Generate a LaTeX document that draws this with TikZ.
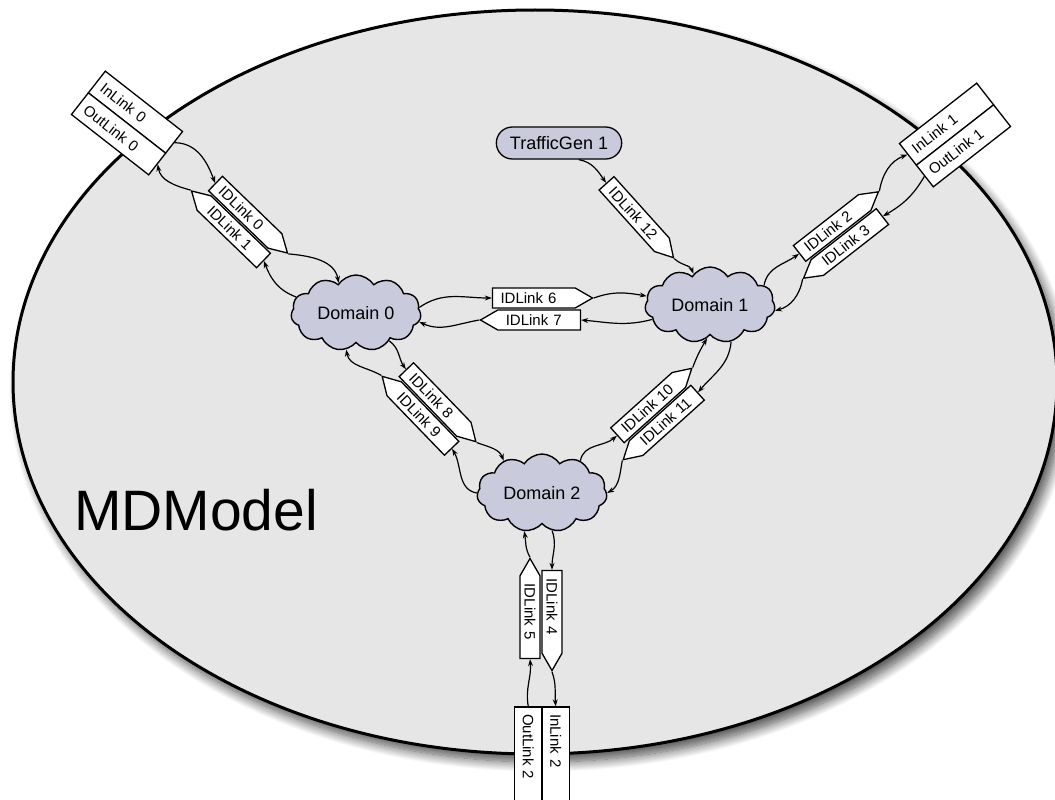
\documentclass[tikz,border=0pt]{standalone}
\usepackage{fontspec}
\setmainfont{Liberation Sans}
\usetikzlibrary{shapes.symbols,shapes.misc,arrows.meta,shadows.blur}

\definecolor{modelfill}{RGB}{230,230,230}
\definecolor{domainfill}{RGB}{201,202,219}

\tikzset{
  domcloud/.style={cloud, cloud puffs=11, cloud puff arc=115, cloud ignores aspect,
    minimum width=130pt, minimum height=76pt, draw, line width=1.4pt,
    fill=domainfill, inner sep=0pt, font=\fontsize{18}{20}\selectfont},
  idlink/.style={signal, draw, fill=white, line width=1.3pt,
    minimum height=20pt, text width=66.7pt, align=left,
    inner xsep=8pt, inner ysep=1.5pt,
    signal pointer angle=60, font=\fontsize{15}{16}\selectfont, transform shape},
  toeast/.style={idlink, signal to=east},
  towest/.style={idlink, signal to=west},
  portbox/.style={rectangle, draw, fill=white, line width=1.3pt,
    minimum height=27.5pt, text width=84pt, inner xsep=7pt, inner ysep=0pt,
    align=left, font=\fontsize{15}{16}\selectfont, transform shape},
  gen/.style={rounded rectangle, draw, fill=domainfill, line width=1.3pt,
    minimum width=132pt, minimum height=32pt, font=\fontsize{18}{20}\selectfont},
  conn/.style={line width=1.2pt, -{Stealth[length=7pt,width=5pt]}},
}

\begin{document}
\begin{tikzpicture}[x=1pt,y=1pt]
\useasboundingbox (0,0) rectangle (1055,-800);

% model area with its drop shadow
\draw[line width=3pt, fill=modelfill,
  blur shadow={shadow xshift=6pt, shadow yshift=-8pt, shadow blur radius=10pt,
               shadow blur steps=14, shadow opacity=70}]
  (535,-382) ellipse [x radius=522, y radius=372];

\node[font=\fontsize{57}{62}\selectfont] (title) at (196,-510) {MDModel};

% domains and the traffic generator
\node[domcloud] (dom0) at (356,-313) {Domain 0};
\node[domcloud] (dom1) at (710,-305) {Domain 1};
\node[domcloud, minimum height=78pt] (dom2) at (542,-493) {Domain 2};
\node[gen] (tg) at (559,-143) {TrafficGen 1};

% external link ports
\begin{scope}[shift={(127,-123)}, rotate=-38]
  \node[portbox] (in0) at (0,13.75) {InLink 0};
  \node[portbox] (out0) at (0,-13.75) {OutLink 0};
\end{scope}
\begin{scope}[shift={(955,-135)}, rotate=38]
  \node[portbox] (in1) at (0,13.75) {InLink 1};
  \node[portbox] (out1) at (0,-13.75) {OutLink 1};
\end{scope}
\begin{scope}[shift={(542,-756)}, rotate=-90]
  \node[portbox] (in2) at (0,13.75) {InLink 2};
  \node[portbox] (out2) at (0,-13.75) {OutLink 2};
\end{scope}

% inter-domain links, in pairs (a signal node is centred on its body,
% so the pointer side is compensated by 8.65pt)
\begin{scope}[shift={(239.5,-222)}, rotate=-44]
  \node[toeast] (idl0) at (-2.65,11) {IDLink 0};
  \node[towest] (idl1) at (2.65,-11) {IDLink 1};
\end{scope}
\begin{scope}[shift={(841,-235)}, rotate=38]
  \node[toeast] (idl2) at (-2.65,11) {IDLink 2};
  \node[towest] (idl3) at (2.65,-11) {IDLink 3};
\end{scope}
\begin{scope}[shift={(541,-614.5)}, rotate=-90]
  \node[toeast] (idl4) at (-2.65,11) {IDLink 4};
  \node[towest] (idl5) at (2.65,-11) {IDLink 5};
\end{scope}
\begin{scope}[shift={(536.5,-309)}]
  \node[toeast] (idl6) at (-2.65,11) {IDLink 6};
  \node[towest] (idl7) at (2.65,-11) {IDLink 7};
\end{scope}
\begin{scope}[shift={(429,-409)}, rotate=-46]
  \node[toeast] (idl8) at (-2.65,11) {IDLink 8};
  \node[towest] (idl9) at (2.65,-11) {IDLink 9};
\end{scope}
\begin{scope}[shift={(657.5,-414)}, rotate=42]
  \node[toeast] (idl10) at (-2.65,11) {IDLink 10};
  \node[towest] (idl11) at (2.65,-11) {IDLink 11};
\end{scope}
\begin{scope}[shift={(640,-220.5)}, rotate=-48]
  \node[toeast] (idl12) at (-8.65,0) {IDLink 12};
\end{scope}

% connectors
\draw[conn] (in0.east) to[out=0,in=110] (idl0.west);
\draw[conn] (idl1.west) to[out=165,in=-80] (out0.east);
\draw[conn] (idl0.east) to[out=-5,in=100] (dom0.120);
\draw[conn] (dom0.165) to[out=160,in=-70] (idl1.east);

\draw[conn] (dom0.5) to[out=35,in=180] (idl6.west);
\draw[conn] (idl6.east) to[out=20,in=170] (dom1.172);
\draw[conn] (dom1.194) to[out=-165,in=-5] (idl7.east);
\draw[conn] (idl7.west) to[out=-170,in=-25] (dom0.-8);

\draw[conn] (tg.-40) to[out=-10,in=125] (idl12.west);
\draw[conn] (idl12.east) to[out=-45,in=110] (dom1.118);

\draw[conn] (dom1.20) to[out=80,in=215] (idl2.west);
\draw[conn] (idl2.east) to[out=80,in=200] (in1.west);
\draw[conn] (out1.west) to[out=-120,in=30] (idl3.east);
\draw[conn] (idl3.west) to[out=-100,in=15] (dom1.-5);

\draw[conn] (dom0.-40) to[out=-35,in=125] (idl8.west);
\draw[conn] (idl8.east) to[out=-20,in=110] (dom2.140);
\draw[conn] (dom2.180) to[out=170,in=-60] (idl9.east);
\draw[conn] (idl9.west) to[out=150,in=-80] (dom0.-105);

\draw[conn] (dom2.40) to[out=80,in=220] (idl10.west);
\draw[conn] (idl10.east) to[out=70,in=-120] (dom1.-95);
\draw[conn] (dom1.-60) to[out=-95,in=50] (idl11.east);
\draw[conn] (idl11.west) to[out=-100,in=30] (dom2.0);

\draw[conn] (idl5.west) to[out=120,in=-80] (dom2.-115);
\draw[conn] (dom2.-75) to[out=-70,in=90] (idl4.west);
\draw[conn] (idl4.east) to[out=-70,in=95] (in2.west);
\draw[conn] (out2.west) to[out=100,in=-85] (idl5.east);
\end{tikzpicture}
\end{document}
